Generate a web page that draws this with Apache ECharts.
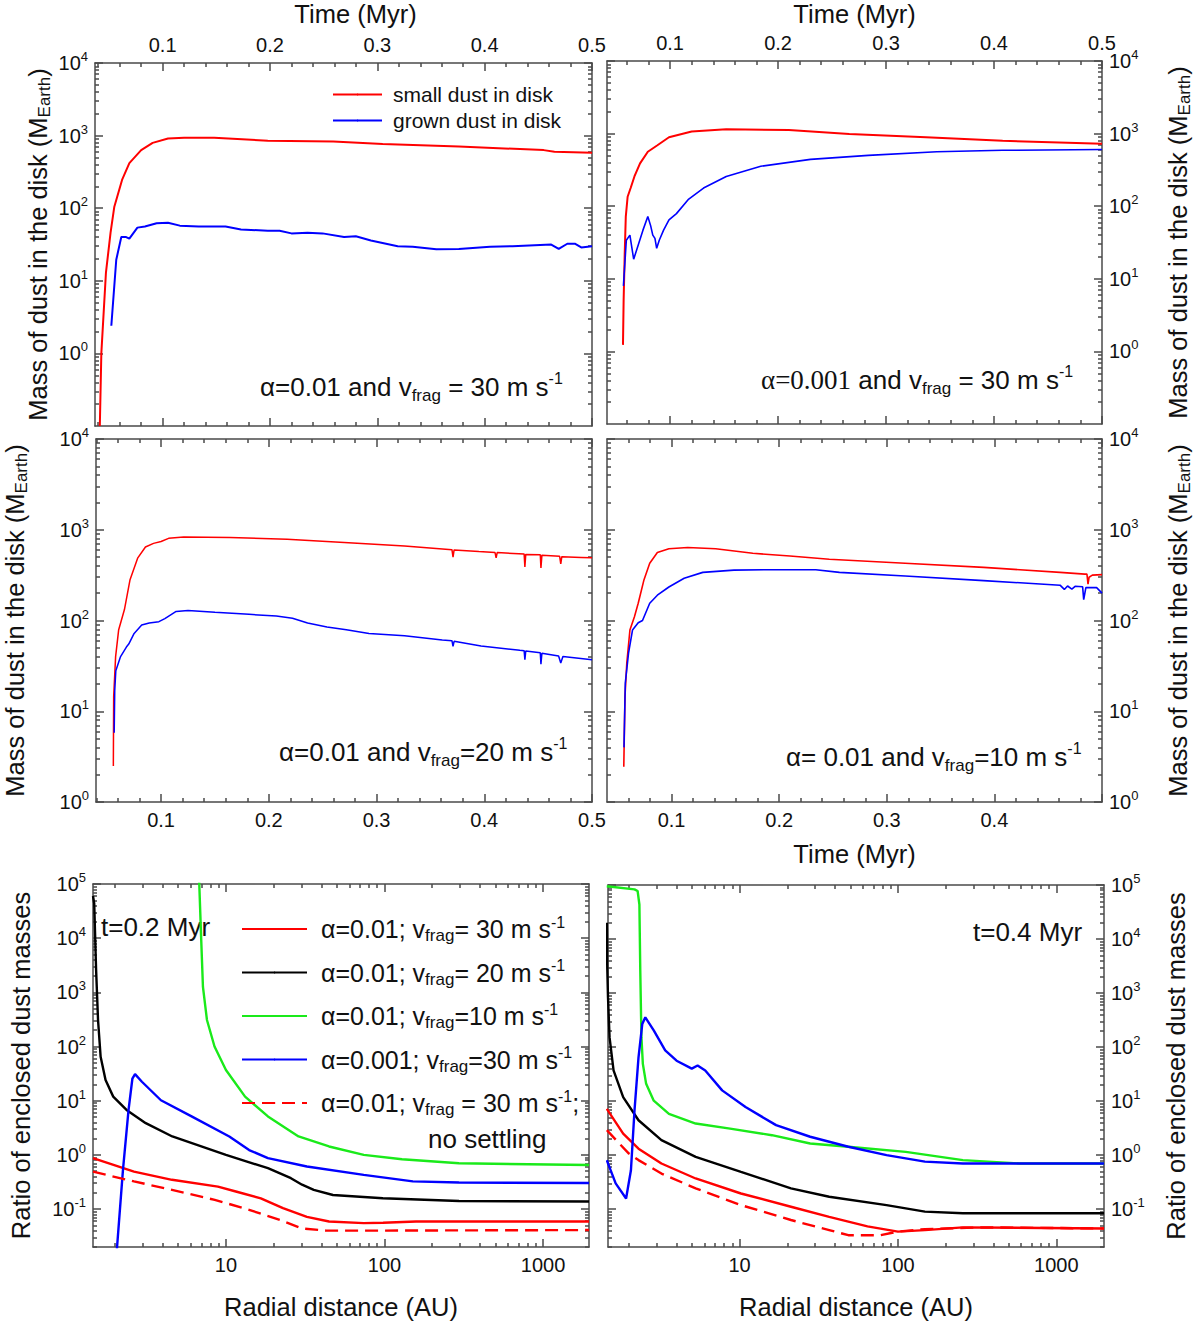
<!DOCTYPE html>
<html>
<head>
<meta charset="utf-8">
<script src="https://cdn.jsdelivr.net/npm/echarts@6.0.0/dist/echarts.min.js"></script>
<style>
  html, body { margin: 0; background: #fff; }
  #chart { width: 1200px; height: 1326px; }
</style>
</head>
<body>
<div id="chart"></div>
<script>
const FONT = '"Liberation Sans", Arial, sans-serif'
const INK = '#111'
const FRAME = '#4a4a4a'
const RED = '#ff0000', BLUE = '#0000ff', GREEN = '#1aea1a', BLACK = '#000000'

// ---- ticks ----
const timeTicks = [0.1, 0.2, 0.3, 0.4, 0.5]
const timeMinor = [0.04, 0.06, 0.08, 0.12, 0.14, 0.16, 0.18, 0.22, 0.24, 0.26, 0.28,
  0.32, 0.34, 0.36, 0.38, 0.42, 0.44, 0.46, 0.48]
const radTicks = [10, 100, 1000]
const massExp = [0, 1, 2, 3, 4]
const ratioExp = [-1, 0, 1, 2, 3, 4, 5]

// ---- panel A: alpha=0.01, vfrag=30 ----
const timeSmallA = [0.0415, 0.0429, 0.0472, 0.0515, 0.055, 0.0622, 0.069, 0.080, 0.0907, 0.105,
  0.12, 0.148, 0.198, 0.259, 0.305, 0.376, 0.455, 0.465, 0.5]
const massSmallA = [0.1, 1.0, 13, 46, 105, 245, 417, 630, 794, 912,
  933, 933, 851, 832, 767, 708, 631, 600, 582]
const timeGrownA = [0.0522, 0.0568, 0.0615, 0.066, 0.069, 0.0765, 0.0835, 0.0944, 0.105, 0.116,
  0.1336, 0.1586, 0.173, 0.198, 0.209, 0.22, 0.235, 0.249, 0.269, 0.28, 0.294, 0.319, 0.333,
  0.355, 0.376, 0.405, 0.426, 0.462, 0.469, 0.477, 0.484, 0.49, 0.5]
const massGrownA = [2.4, 19.5, 40, 40, 38, 54, 56, 62, 63, 57.5,
  56, 56, 51, 49, 49, 45, 46, 45, 40, 41, 36, 30, 29.5,
  27.2, 27.5, 29.5, 30, 31.6, 27.5, 32.4, 32.4, 28.8, 30]

// ---- panel B: alpha=0.001, vfrag=30 ----
const timeSmallB = [0.0564, 0.057, 0.058, 0.059, 0.0607, 0.0635, 0.067, 0.0722, 0.0794, 0.0883,
  0.099, 0.12, 0.152, 0.21, 0.266, 0.337, 0.408, 0.5]
const massSmallB = [1.23, 5.1, 22, 72, 135, 178, 257, 389, 562, 692,
  891, 1070, 1150, 1120, 990, 891, 794, 724]
const timeGrownB = [0.0568, 0.0595, 0.0628, 0.0663, 0.0706, 0.0749, 0.0794, 0.082, 0.084, 0.086,
  0.0876, 0.09, 0.094, 0.099, 0.1059, 0.1167, 0.131, 0.152, 0.184, 0.230, 0.2836, 0.347, 0.408, 0.5]
const massGrownB = [8, 34, 40, 18.6, 29.5, 46.8, 72, 54, 40, 36,
  26.3, 34, 46.8, 64.6, 79, 123, 178, 257, 355, 442, 501, 562, 589, 603]

// ---- panel C: alpha=0.01, vfrag=20 ----
const timeSmallC = [0.0557, 0.056, 0.0578, 0.0606, 0.066, 0.0712, 0.0784, 0.0855, 0.093, 0.1,
  0.107, 0.121, 0.164, 0.217, 0.270, 0.326, 0.370, 0.371, 0.372, 0.395, 0.41, 0.411, 0.412,
  0.437, 0.4377, 0.4385, 0.452, 0.4526, 0.4535, 0.47, 0.471, 0.472, 0.49, 0.5]
const massSmallC = [2.5, 14.5, 40, 78.5, 132, 282, 490, 646, 708, 741,
  804, 832, 822, 785, 724, 661, 603, 500, 600, 575, 560, 490, 560,
  540, 390, 535, 530, 380, 525, 510, 420, 505, 495, 490]
const timeGrownC = [0.0565, 0.057, 0.058, 0.0624, 0.0678, 0.070, 0.075, 0.082, 0.089, 0.098,
  0.1035, 0.114, 0.125, 0.15, 0.1816, 0.207, 0.222, 0.236, 0.254, 0.272, 0.293, 0.326, 0.361,
  0.370, 0.371, 0.372, 0.397, 0.433, 0.437, 0.4377, 0.4385, 0.452, 0.4526, 0.4535, 0.469,
  0.471, 0.473, 0.5]
const massGrownC = [5.8, 17, 28, 40, 51, 55, 72, 89, 94, 97,
  105, 126, 129, 123, 117, 112, 106, 94, 85, 79, 72, 68, 61,
  60, 52, 59, 52.5, 47, 46.5, 37, 46, 44, 33, 43.5, 40.7,
  34, 40, 37]

// ---- panel D: alpha=0.01, vfrag=10 ----
const timeSmallD = [0.0556, 0.0567, 0.0584, 0.0613, 0.0655, 0.069, 0.0744, 0.0797, 0.0868, 0.0975,
  0.115, 0.141, 0.1755, 0.21, 0.2466, 0.317, 0.39, 0.461, 0.484, 0.486, 0.487, 0.488, 0.491, 0.5]
const massSmallD = [2.45, 14.5, 34, 78.5, 110, 155, 282, 427, 562, 617,
  638, 617, 550, 513, 473, 427, 385, 339, 324, 324, 251, 300, 316, 320]
const timeGrownD = [0.0558, 0.057, 0.06, 0.0637, 0.069, 0.073, 0.0797, 0.0868, 0.0975, 0.1117,
  0.129, 0.158, 0.195, 0.234, 0.256, 0.317, 0.39, 0.461, 0.465, 0.468, 0.472, 0.475, 0.482,
  0.483, 0.485, 0.495, 0.5]
const massGrownD = [4, 20.4, 43.6, 78.5, 94.4, 100, 155, 190, 234, 292,
  339, 359, 363, 363, 339, 309, 275, 245, 220, 240, 222, 238, 235,
  170, 230, 230, 200]

// ---- enclosed mass ratio, t = 0.2 Myr ----
const radRed2 = [1.45, 2.63, 4.57, 8.9, 11.7, 16.6, 22.9, 32.4, 44.7, 74, 98, 158, 1950]
const ratioRed2 = [0.87, 0.49, 0.347, 0.26, 0.209, 0.158, 0.104, 0.072, 0.059, 0.055, 0.056, 0.059, 0.059]
const radBlack2 = [1.45, 1.476, 1.517, 1.56, 1.62, 1.74, 1.945, 2.36, 3.12, 4.59, 10, 18.4, 25.7,
  30.2, 35.8, 47.3, 97.7, 295, 1950]
const ratioBlack2 = [60000, 43650, 2570, 309, 64.6, 24, 11.9, 6.76, 3.85, 2.19, 1.0, 0.569, 0.372,
  0.282, 0.226, 0.182, 0.158, 0.141, 0.138]
const radGreen2 = [6.7, 6.97, 7.16, 7.59, 8.47, 10, 13.2, 18.4, 28.7, 44.7, 74, 129, 295, 1950]
const ratioGreen2 = [300000, 10700, 1260, 309, 100, 37, 11.9, 5.13, 2.19, 1.43, 1.0, 0.83, 0.70, 0.65]
const radBlue2 = [2.02, 2.24, 2.43, 2.57, 2.67, 2.95, 3.89, 6.07, 10.5, 14, 18.4, 32.4, 74, 151, 295, 1950]
const ratioBlue2 = [0.01, 0.525, 6.76, 25.7, 30.9, 22.4, 10.2, 5.13, 2.19, 1.23, 0.87, 0.61, 0.427,
  0.324, 0.309, 0.302]
const radDash2 = [1.45, 2.63, 4.57, 8.5, 14, 21.9, 30.2, 42.7, 74, 1950]
const ratioDash2 = [0.49, 0.324, 0.226, 0.148, 0.097, 0.063, 0.044, 0.040, 0.040, 0.041]

// ---- enclosed mass ratio, t = 0.4 Myr ----
const radRed4 = [1.45, 1.84, 2.30, 3.21, 5.28, 10.2, 21.1, 36.8, 64.2, 100, 148, 257, 2000]
const ratioRed4 = [7.2, 2.5, 1.32, 0.70, 0.37, 0.195, 0.111, 0.072, 0.048, 0.0385, 0.041, 0.046, 0.044]
const radBlack4 = [1.45, 1.46, 1.476, 1.51, 1.6, 1.84, 2.30, 3.21, 5.28, 10.2, 21.1, 36.8, 84.7,
  148, 257, 2000]
const ratioBlack4 = [20000, 3000, 832, 151, 37, 11.9, 4.42, 1.9, 0.93, 0.49, 0.243, 0.17, 0.119,
  0.09, 0.084, 0.084]
const radGreen4 = [1.45, 2.17, 2.27, 2.33, 2.36, 2.40, 2.45, 2.57, 2.87, 3.58, 5.28, 8.71, 16.0,
  27.9, 48.6, 112, 257, 589, 2000]
const ratioGreen4 = [95000, 83000, 77600, 43600, 2570, 151, 49, 20.9, 10.2, 5.8, 3.85, 3.09, 2.34,
  1.64, 1.43, 1.15, 0.81, 0.70, 0.70]
const radBlue4 = [1.45, 1.65, 1.92, 2.06, 2.17, 2.30, 2.43, 2.54, 2.87, 3.39, 4.0, 4.99, 5.43, 6.07,
  7.76, 10.9, 17, 27.9, 48.6, 84.7, 148, 257, 2000]
const ratioBlue4 = [0.81, 0.30, 0.158, 0.525, 6.76, 64.6, 269, 355, 204, 87, 56, 40, 45.7, 37,
  15.8, 7.76, 3.59, 2.19, 1.43, 1.0, 0.76, 0.70, 0.70]
const radDash4 = [1.45, 1.74, 2.0, 2.30, 3.21, 5.28, 10.2, 21.1, 36.8, 48.6, 77.6, 100, 148, 339, 2000]
const ratioDash4 = [2.9, 1.64, 1.07, 0.81, 0.457, 0.243, 0.119, 0.063, 0.041, 0.033, 0.033, 0.0385,
  0.0427, 0.046, 0.044]

const seriesNames = ['small dust in disk', 'grown dust in disk']
const ratioNames = ['a0.01 v30', 'a0.01 v20', 'a0.01 v10', 'a0.001 v30', 'a0.01 v30 no settling']
const ratioLegend = {
  'a0.01 v30': '{n|α=0.01; v}{sub|frag}{n|= 30 m s}{sup|-1}',
  'a0.01 v20': '{n|α=0.01; v}{sub|frag}{n|= 20 m s}{sup|-1}',
  'a0.01 v10': '{n|α=0.01; v}{sub|frag}{n|=10 m s}{sup|-1}',
  'a0.001 v30': '{n|α=0.001; v}{sub|frag}{n|=30 m s}{sup|-1}',
  'a0.01 v30 no settling': '{n|α=0.01; v}{sub|frag}{n| = 30 m s}{sup|-1}{n|;}'
}

const log = Math.log10
const toPts = (xs, ys, logX) => xs.map((x, i) => [logX ? log(x) : x, log(ys[i])])

// minor ticks of a log axis (in log10 units)
function decadeMinor(lo, hi) {
  const out = []
  for (let n = Math.floor(lo); n <= Math.ceil(hi); n++) {
    for (let k = 2; k <= 9; k++) {
      const v = n + log(k)
      if (v > lo + 1e-6 && v < hi - 1e-6) out.push(v)
    }
  }
  return out
}

const richText = {
  n: {fontSize: 20, fontFamily: FONT, color: INK, lineHeight: 26},
  sup: {fontSize: 13, fontFamily: FONT, color: INK, verticalAlign: 'top', lineHeight: 13}
}
const expFmt = (v) => `{n|10}{sup|${Math.round(v)}}`
const lineSty = {color: FRAME, width: 1.5}

function axisPair(g, side, range, major, minor, label, name) {
  const base = {
    gridIndex: g, type: 'value', position: side, min: range[0], max: range[1],
    splitLine: {show: false}, axisPointer: {show: false}, nameMoveOverlap: false
  }
  const maj = Object.assign({}, base, {
    axisLine: {show: true, onZero: false, lineStyle: lineSty},
    axisTick: {show: true, inside: true, length: 8, customValues: major, lineStyle: lineSty},
    axisLabel: label
      ? {show: true, customValues: label.values, formatter: label.fmt, margin: label.margin,
         color: INK, fontFamily: FONT, fontSize: 20, rich: richText}
      : {show: false, customValues: major}
  }, name || {})
  const mnr = Object.assign({}, base, {
    axisLine: {show: false, onZero: false},
    axisTick: {show: true, inside: true, length: 4, customValues: minor, lineStyle: lineSty},
    axisLabel: {show: false, customValues: minor}
  })
  return [maj, mnr]
}

const titleStyle = {
  fontSize: 25.5, fontFamily: FONT, color: INK,
  rich: {
    t: {fontSize: 25.5, fontFamily: FONT, color: INK, lineHeight: 31},
    sub: {fontSize: 17, fontFamily: FONT, color: INK, verticalAlign: 'bottom', lineHeight: 17}
  }
}
const massTitle = '{t|Mass of dust in the disk (M}{sub|Earth}{t|)}'
const ratioTitle = 'Ratio of enclosed dust masses'

const panels = [
  {box: {left: 95, top: 63, width: 497, height: 363}, xr: [0.037, 0.5], yr: [-1, 4], kind: 'time',
   xSide: 'top', ySide: 'left', xLab: timeTicks, yLab: massExp,
   xName: 'Time (Myr)', xGap: 36, xPad: [0, 0, 0, 24], yName: massTitle, yGap: 42},
  {box: {left: 607, top: 61, width: 495, height: 363}, xr: [0.0416, 0.5], yr: [-1, 4], kind: 'time',
   xSide: 'top', ySide: 'right', xLab: timeTicks, yLab: massExp,
   xName: 'Time (Myr)', xGap: 34, yName: massTitle, yGap: 60},
  {box: {left: 96, top: 439, width: 496, height: 363}, xr: [0.0396, 0.5], yr: [0, 4], kind: 'time',
   xSide: 'bottom', ySide: 'left', xLab: timeTicks, yLab: massExp,
   yName: massTitle, yGap: 66},
  {box: {left: 607, top: 439, width: 495, height: 363}, xr: [0.04, 0.5], yr: [0, 4], kind: 'time',
   xSide: 'bottom', ySide: 'right', xLab: [0.1, 0.2, 0.3, 0.4], yLab: massExp,
   xName: 'Time (Myr)', xGap: 39, yName: massTitle, yGap: 60},
  {box: {left: 93, top: 884, width: 496, height: 363}, xr: [log(1.45), log(1950)], yr: [-1.7, 5], kind: 'rad',
   xSide: 'bottom', ySide: 'left', xLab: radTicks.map(log), yLab: ratioExp,
   xName: 'Radial distance (AU)', xGap: 47, yName: ratioTitle, yGap: 59},
  {box: {left: 608, top: 885, width: 496, height: 362}, xr: [log(1.476), log(2000)], yr: [-1.7, 5], kind: 'rad',
   xSide: 'bottom', ySide: 'right', xLab: radTicks.map(log), yLab: ratioExp,
   xName: 'Radial distance (AU)', xGap: 47, yName: ratioTitle, yGap: 59}
]

const other = {top: 'bottom', bottom: 'top', left: 'right', right: 'left'}
const grid = [], xAxis = [], yAxis = []
panels.forEach((p, g) => {
  grid.push(Object.assign({show: false, containLabel: false, outerBoundsMode: 'none'}, p.box))
  const xMajor = p.kind === 'rad' ? radTicks.map(log) : timeTicks
  const xMinor = p.kind === 'rad'
    ? decadeMinor(p.xr[0], p.xr[1])
    : timeMinor.filter(v => v > p.xr[0] && v < p.xr[1])
  const xFmt = p.kind === 'rad' ? (v => String(Math.round(Math.pow(10, v)))) : (v => v.toFixed(1))
  const yMajor = p.yLab
  const yMinor = decadeMinor(p.yr[0], p.yr[1])
  const xNameCfg = p.xName ? {
    name: p.xName, nameLocation: 'middle', nameGap: p.xGap,
    nameTextStyle: Object.assign({}, titleStyle, {padding: p.xPad || 0})
  } : null
  const yNameCfg = {
    name: p.yName, nameLocation: 'middle', nameGap: p.yGap, nameRotate: 90,
    nameTextStyle: titleStyle
  }
  xAxis.push(...axisPair(g, p.xSide, p.xr, xMajor, xMinor, {values: p.xLab, fmt: xFmt, margin: 8}, xNameCfg))
  xAxis.push(...axisPair(g, other[p.xSide], p.xr, xMajor, xMinor))
  yAxis.push(...axisPair(g, p.ySide, p.yr, yMajor, yMinor, {values: p.yLab, fmt: expFmt, margin: 7}, yNameCfg))
  yAxis.push(...axisPair(g, other[p.ySide], p.yr, yMajor, yMinor))
})

function line(g, name, color, pts, width, dash) {
  return {
    type: 'line', name, xAxisIndex: g * 4, yAxisIndex: g * 4, data: pts,
    symbol: 'none', showSymbol: false, color, clip: true, silent: true,
    lineStyle: {color, width, type: dash || 'solid'}
  }
}

const series = [
  line(0, seriesNames[0], RED, toPts(timeSmallA, massSmallA), 2),
  line(0, seriesNames[1], BLUE, toPts(timeGrownA, massGrownA), 2),
  line(1, seriesNames[0], RED, toPts(timeSmallB, massSmallB), 2),
  line(1, seriesNames[1], BLUE, toPts(timeGrownB, massGrownB), 1.6),
  line(2, seriesNames[0], RED, toPts(timeSmallC, massSmallC), 1.5),
  line(2, seriesNames[1], BLUE, toPts(timeGrownC, massGrownC), 1.5),
  line(3, seriesNames[0], RED, toPts(timeSmallD, massSmallD), 1.6),
  line(3, seriesNames[1], BLUE, toPts(timeGrownD, massGrownD), 1.6),

  line(4, ratioNames[0], RED, toPts(radRed2, ratioRed2, true), 2.4),
  line(4, ratioNames[1], BLACK, toPts(radBlack2, ratioBlack2, true), 2.4),
  line(4, ratioNames[2], GREEN, toPts(radGreen2, ratioGreen2, true), 2.4),
  line(4, ratioNames[3], BLUE, toPts(radBlue2, ratioBlue2, true), 2.4),
  line(4, ratioNames[4], RED, toPts(radDash2, ratioDash2, true), 2.4, [13, 7]),

  line(5, ratioNames[0], RED, toPts(radRed4, ratioRed4, true), 2.4),
  line(5, ratioNames[1], BLACK, toPts(radBlack4, ratioBlack4, true), 2.4),
  line(5, ratioNames[2], GREEN, toPts(radGreen4, ratioGreen4, true), 2.4),
  line(5, ratioNames[3], BLUE, toPts(radBlue4, ratioBlue4, true), 2.4),
  line(5, ratioNames[4], RED, toPts(radDash4, ratioDash4, true), 2.4, [13, 7])
]

const noteRich = {
  n: {fontSize: 26, fontFamily: FONT, fill: INK, lineHeight: 34},
  ser: {fontSize: 27, fontFamily: '"Liberation Serif", "Times New Roman", serif', fill: INK, lineHeight: 34},
  sub: {fontSize: 17, fontFamily: FONT, fill: INK, verticalAlign: 'bottom', lineHeight: 17},
  sup: {fontSize: 16, fontFamily: FONT, fill: INK, verticalAlign: 'top', lineHeight: 16}
}
const note = (x, y, text) => ({
  type: 'text', x, y, silent: true,
  style: {text, rich: noteRich, align: 'left', verticalAlign: 'middle', fontSize: 26, fontFamily: FONT, fill: INK}
})

const chart = echarts.init(document.getElementById('chart'), null, {renderer: 'svg'})
chart.setOption({
  animation: false,
  backgroundColor: '#fff',
  textStyle: {fontFamily: FONT, color: INK},
  grid, xAxis, yAxis, series,
  legend: [
    {
      data: seriesNames, left: 332, top: 84, orient: 'vertical', selectedMode: false, padding: 0,
      itemWidth: 49, itemHeight: 2, itemGap: 5,
      textStyle: {fontSize: 21, fontFamily: FONT, color: INK, lineHeight: 21, padding: [0, 0, 0, 6]}
    },
    {
      data: ratioNames, left: 241, top: 914, orient: 'vertical', selectedMode: false, padding: 0,
      itemWidth: 65, itemHeight: 2, itemGap: 13.5,
      formatter: (name) => ratioLegend[name],
      textStyle: {
        fontSize: 25, fontFamily: FONT, color: INK, padding: [0, 0, 0, 9],
        rich: {
          n: {fontSize: 25, fontFamily: FONT, color: INK, lineHeight: 30},
          sub: {fontSize: 17, fontFamily: FONT, color: INK, verticalAlign: 'bottom', lineHeight: 17},
          sup: {fontSize: 16, fontFamily: FONT, color: INK, verticalAlign: 'top', lineHeight: 16}
        }
      }
    }
  ],
  graphic: [
    note(260, 387, '{n|α=0.01 and v}{sub|frag}{n| = 30 m s}{sup|-1}'),
    note(761, 380, '{ser|α=0.001}{n| and v}{sub|frag}{n| = 30 m s}{sup|-1}'),
    note(279, 752, '{n|α=0.01 and v}{sub|frag}{n|=20 m s}{sup|-1}'),
    note(786, 757, '{n|α= 0.01 and v}{sub|frag}{n|=10 m s}{sup|-1}'),
    note(101, 927, '{n|t=0.2 Myr}'),
    note(973, 932, '{n|t=0.4 Myr}'),
    note(428, 1139, '{n|no settling}')
  ]
})
</script>
</body>
</html>
